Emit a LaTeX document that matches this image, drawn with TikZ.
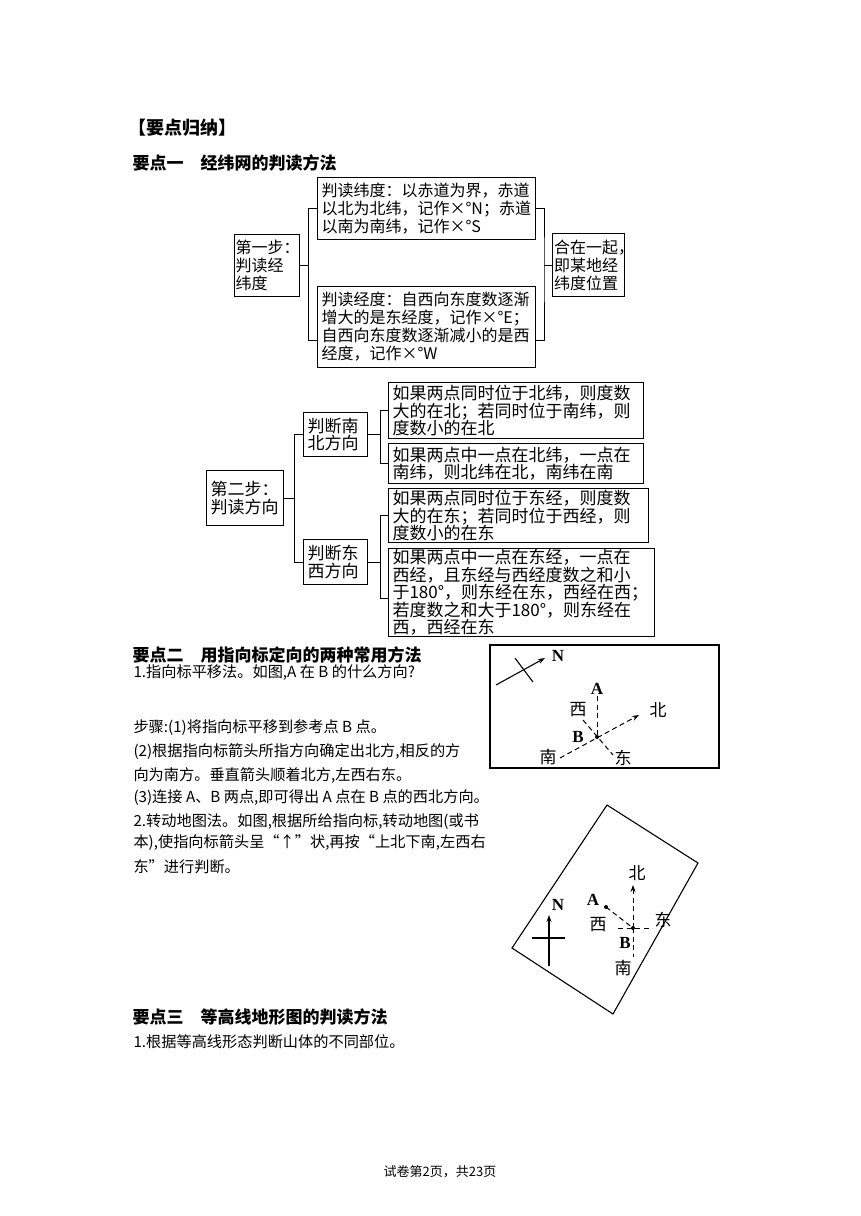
\documentclass[tikz,border=0pt]{standalone}
\usepackage{fontspec}
\setmainfont{Liberation Serif}
\newfontfamily\cjk{Noto Sans CJK SC}
\usetikzlibrary{arrows.meta}

\begin{document}
\begin{tikzpicture}[x=1pt, y=-1pt, line width=1pt, >={Stealth[length=7pt,width=5pt]},
  every node/.style={font=\cjk},
  bx/.style={draw,line width=1.1pt,inner xsep=4pt,inner ysep=1pt,align=left,anchor=north west},
  big/.style={font=\cjk\fontsize{16}{18}\selectfont},
  mid/.style={font=\cjk\fontsize{17}{17.4}\selectfont},
  txt/.style={anchor=west,inner sep=0pt,font=\cjk\fontsize{15.2}{16}\selectfont},
  head/.style={anchor=west,inner sep=0pt,font=\cjk\bfseries\fontsize{17}{18}\selectfont},
  lbl/.style={inner sep=1pt,font=\cjk\fontsize{17}{17}\selectfont},
  ltr/.style={inner sep=1pt,font=\bfseries\fontsize{17}{17}\selectfont},
  dsh/.style={dashed,line width=1pt,dash pattern=on 5pt off 3.5pt}]
\useasboundingbox[fill=white] (0,0) rectangle (860,1216);

\node[head,font=\cjk\bfseries\fontsize{18}{18}\selectfont] (title) at (128,128) {【要点归纳】};
\node[head] (h1) at (132,163) {要点一　经纬网的判读方法};

% step one
\node[bx,font=\cjk\fontsize{16}{18}\selectfont,inner xsep=1pt,text width=63pt,minimum height=62pt] (step1) at (234,234) {第一步：\\判读经\\纬度};
\node[bx,big,text width=210pt,minimum height=62pt] (lat) at (317,177) {判读纬度：以赤道为界，赤道\\以北为北纬，记作×°N；赤道\\以南为南纬，记作×°S};
\node[bx,big,text width=210pt,minimum height=81pt] (lon) at (317,286) {判读经度：自西向东度数逐渐\\增大的是东经度，记作×°E；\\自西向东度数逐渐减小的是西\\经度，记作×°W};
\node[bx,font=\cjk\fontsize{16}{18}\selectfont,inner xsep=1.5pt,text width=69pt,minimum height=63pt] (res) at (552,233) {合在一起\rlap{，}\\即某地经\\纬度位置};
\draw (step1.east) -- ++(8,0) coordinate (k1);
\draw (lat.west) -| (k1) |- ([yshift=-13pt]lon.west);
\draw (res.west) -- ++(-8,0) coordinate (k2);
\draw (lat.east) -| (k2) |- ([yshift=-13pt]lon.east);

% step two
\node[bx,mid,text width=69pt,minimum height=55pt] (step2) at (206,470) {第二步：\\判读方向};
\node[bx,mid,text width=56pt,minimum height=44pt] (ns) at (303,412) {判断南\\北方向};
\node[bx,mid,text width=56pt,minimum height=45pt] (ew) at (303,539) {判断东\\西方向};
\node[bx,mid,text width=247pt,minimum height=56pt] (ns1) at (388,382) {如果两点同时位于北纬，则度数\\大的在北；若同时位于南纬，则\\度数小的在北};
\node[bx,mid,text width=247pt,minimum height=40pt] (ns2) at (388,443) {如果两点中一点在北纬，一点在\\南纬，则北纬在北，南纬在南};
\node[bx,mid,text width=252pt,minimum height=54pt] (ew1) at (388,488) {如果两点同时位于东经，则度数\\大的在东；若同时位于西经，则\\度数小的在东};
\node[bx,mid,text width=258pt,minimum height=87pt] (ew2) at (388,548) {如果两点中一点在东经，一点在\\西经，且东经与西经度数之和小\\于180°，则东经在东，西经在西；\\若度数之和大于180°，则东经在\\西，西经在东};
\draw (step2.east) -- ++(10,0) coordinate (k3);
\draw (ns.west) -| (k3) |- (ew.west);
\draw (ns.east) -- ++(12,0) coordinate (k4);
\draw (ns1.west) -| (k4) |- (ns2.west);
\draw (ew.east) -- ++(12,0) coordinate (k5);
\draw (ew1.west) -| (k5) |- ([yshift=-6pt]ew2.west);

% point two
\node[head] (h2) at (132,655) {要点二　用指向标定向的两种常用方法};
\node[txt] (t1) at (133,673) {1.指向标平移法。如图,A 在 B 的什么方向?};
\node[txt] (t2) at (133,728) {步骤:(1)将指向标平移到参考点 B 点。};
\node[txt] (t3) at (133,752) {(2)根据指向标箭头所指方向确定出北方,相反的方};
\node[txt] (t4) at (133,775) {向为南方。垂直箭头顺着北方,左西右东。};
\node[txt] (t5) at (133,798) {(3)连接 A、B 两点,即可得出 A 点在 B 点的西北方向。};
\node[txt] (t6) at (133,822) {2.转动地图法。如图,根据所给指向标,转动地图(或书};
\node[txt] (t7) at (133,843) {本),使指向标箭头呈“↑”状,再按“上北下南,左西右};
\node[txt] (t8) at (133,867) {东”进行判断。};

% map one
\draw[line width=1.1pt] (490,645) rectangle (719,768);
\coordinate (nt1) at (496,685);
\coordinate (nh1) at (545,658);
\draw[->,line width=1.1pt] (nt1) -- (nh1);
\draw[line width=1.1pt] (515,658) -- (533,682);
\node[ltr] (n1) at (558,656) {N};
\node[ltr] (a1) at (597,689) {A};
\coordinate (b1) at (597,737);
\fill (b1) circle (2pt);
\node[ltr] (bl1) at (578,737) {B};
\node[lbl] (w1) at (578,710) {西};
\node[lbl] (e1) at (623,758) {东};
\node[lbl] (no1) at (658,710) {北};
\node[lbl] (s1) at (548,757) {南};
\coordinate (wd1) at (583,720);
\coordinate (ed1) at (613,755);
\coordinate (sd1) at (560,758);
\coordinate (nd1) at (639,715);
\draw[dsh] (a1) -- (b1);
\draw[dsh] (wd1) -- (ed1);
\draw[dsh,->] (sd1) -- (nd1);

% map two
\draw[line width=1.1pt] (607,805) -- (698,863) -- (613,1014) -- (512,948) -- cycle;
\coordinate (nt2) at (549,966);
\coordinate (nh2) at (549,915);
\draw[->,line width=1.1pt] (nt2) -- (nh2);
\draw[line width=1.1pt] (532,938) -- (565,938);
\node[ltr] (n2) at (558,905) {N};
\coordinate (a2) at (606,907);
\coordinate (b2) at (633,928);
\fill (a2) circle (2pt) (b2) circle (2pt);
\node[ltr] (al2) at (593,900) {A};
\node[ltr] (bl2) at (625,943) {B};
\node[lbl] (no2) at (637,873) {北};
\node[lbl] (e2) at (663,920) {东};
\node[lbl] (s2) at (623,968) {南};
\node[lbl] (w2) at (598,925) {西};
\coordinate (nd2) at (633,885);
\coordinate (wd2) at (618,928);
\coordinate (ed2) at (652,928);
\coordinate (sd2) at (633,957);
\draw[dsh] (a2) -- (b2);
\draw[dsh,->] (b2) -- (nd2);
\draw[dsh] (wd2) -- (ed2);
\draw[dsh] (b2) -- (sd2);

% point three
\node[head] (h3) at (132,1017) {要点三　等高线地形图的判读方法};
\node[txt] (t9) at (133,1042) {1.根据等高线形态判断山体的不同部位。};
\node[font=\cjk\fontsize{13}{14}\selectfont] (foot) at (440,1172) {试卷第2页，共23页};
\end{tikzpicture}
\end{document}
